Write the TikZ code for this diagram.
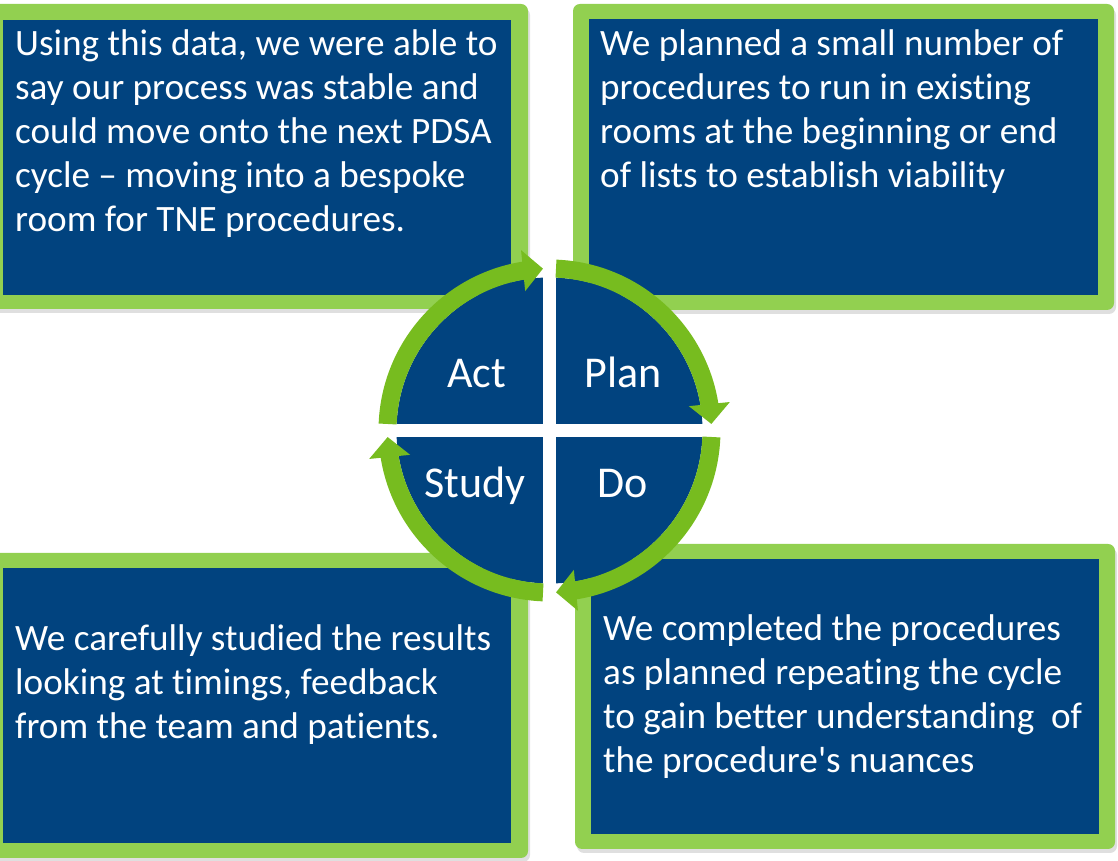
\documentclass[tikz,border=0pt]{standalone}
\usepackage{fontspec}
\setmainfont{Carlito}[Ligatures={ResetAll,NoCommon}]
\usepackage{xcolor}
\usetikzlibrary{arrows.meta,bending,shadows}
\definecolor{boxgreen}{HTML}{92D050}
\definecolor{ringgreen}{HTML}{77BC1F}
\definecolor{pdsablue}{HTML}{01437F}
\newcommand\plainquote{\XeTeXglyph\XeTeXcharglyph"27\relax}

\begin{document}
\begin{tikzpicture}[x=1pt,y=1pt,
            frame/.style={fill=boxgreen, rounded corners=7pt,
              drop shadow={shadow xshift=2pt, shadow yshift=-4pt, opacity=0.25}},
            panel/.style={fill=pdsablue},
            txt/.style={anchor=north west, inner sep=0pt, text=white, align=left,
              font=\fontsize{37.2}{44}\selectfont},
            lbl/.style={anchor=base, inner sep=0pt, text=white,
              font=\fontsize{44}{50}\selectfont},
            ring/.style={draw=ringgreen, line width=18pt,
              -{Triangle[width=40pt,length=20pt]}}]
        \useasboundingbox (0,0) rectangle (1118,861);

        % the four boxes
        \fill[frame] (-12,552) rectangle (528,857);
        \fill[panel] (3,566) rectangle (511,841);
        \fill[frame] (573,551) rectangle (1114,857);
        \fill[panel] (589,566) rectangle (1098,842);
        \fill[frame] (-12,3) rectangle (528,308);
        \fill[panel] (3,18) rectangle (511,293);
        \fill[frame] (575,12) rectangle (1115,317);
        \fill[panel] (591,27) rectangle (1099,302);

        \node[txt] (acttext) at (15,832) {Using this data, we were able to\\say our process was stable and\\could move onto the next PDSA\\cycle – moving into a bespoke\\room for TNE procedures.};
        \node[txt] (plantext) at (600,832) {We planned a small number of\\procedures to run in existing\\rooms at the beginning or end\\of lists to establish viability};
        \node[txt] (studytext) at (15,237) {We carefully studied the results\\looking at timings, feedback\\from the team and patients.};
        \node[txt] (dotext) at (603,247) {We completed the procedures\\as planned repeating the cycle\\to gain better understanding~ of\\the procedure\plainquote s nuances};

        % the cycle
        \coordinate (c) at (549.5,430.5);
        \fill[pdsablue] (c) circle[radius=153];
        \draw[white, line width=13pt] ([yshift=-154pt]c) -- ([yshift=154pt]c);
        \draw[white, line width=13pt] ([xshift=-154pt]c) -- ([xshift=154pt]c);

        \draw[ring] ([shift={(177.7:162)}]c) arc[start angle=177.7, end angle=92.3, radius=162];
        \draw[ring] ([shift={(87.7:162)}]c) arc[start angle=87.7, end angle=2.3, radius=162];
        \draw[ring] ([shift={(-2.3:162)}]c) arc[start angle=-2.3, end angle=-87.7, radius=162];
        \draw[ring] ([shift={(-92.3:162)}]c) arc[start angle=-92.3, end angle=-177.7, radius=162];

        \node[lbl] (act) at ([shift={(-73,42.5)}]c) {Act};
        \node[lbl] (plan) at ([shift={(74,42.5)}]c) {Plan};
        \node[lbl] (study) at ([shift={(-74.5,-67.5)}]c) {Study};
        \node[lbl] (do) at ([shift={(73.5,-67.5)}]c) {Do};
    \end{tikzpicture}
\end{document}
